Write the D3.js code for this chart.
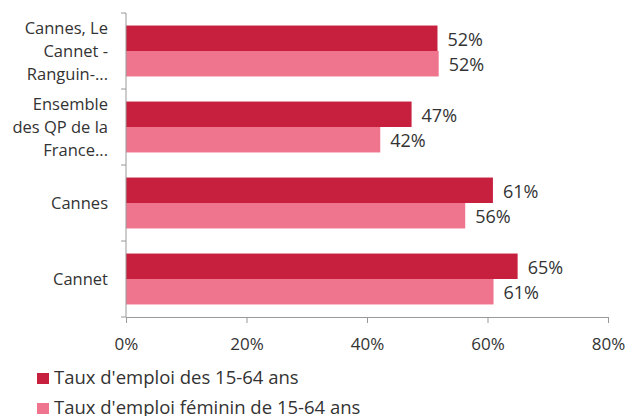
<html>
  <head>
    <script src="https://d3js.org/d3.v7.min.js"></script>
    <style>
      body { margin: 0; background: #fff; }
      text { font-family: "Open Sans", sans-serif; fill: #333; }
      .axis line, .axis path { stroke: #999; }
    </style>
  </head>
  <body>
    <svg id="chart" width="627" height="416"></svg>
    <script>
      // data
      const categories = [
        ["Cannes, Le", "Cannet -", "Ranguin-..."],
        ["Ensemble", "des QP de la", "France..."],
        ["Cannes"],
        ["Cannet"]
      ];
      const seriesNames = ["Taux d'emploi des 15-64 ans", "Taux d'emploi féminin de 15-64 ans"];
      const tauxEmploi = [0.517, 0.474, 0.609, 0.650];
      const tauxFeminin = [0.519, 0.422, 0.563, 0.610];
      const labelsEmploi = ["52%", "47%", "61%", "65%"];
      const labelsFeminin = ["52%", "42%", "56%", "61%"];
      const xTicks = [0, 0.2, 0.4, 0.6, 0.8];
      const colors = ["#c71f3e", "#ef758f"];

      const svg = d3.select("#chart");
      const margin = {top: 13, left: 126, right: 19, bottom: 99};
      const chartWidth = 627 - margin.left - margin.right;
      const chartHeight = 416 - margin.top - margin.bottom;

      const g = svg.append("g").attr("transform", `translate(${margin.left},${margin.top})`);

      const x = d3.scaleLinear().domain([0, 0.8]).range([0, chartWidth]);
      const y = d3.scaleBand().domain(d3.range(categories.length)).range([0, chartHeight]);
      const groupH = y.bandwidth() * 0.67;
      const inner = d3.scaleBand().domain([0, 1]).range([0, groupH]);
      const offset = (y.bandwidth() - groupH) / 2;

      const rows = categories.map((c, i) => ({
        i,
        values: [
          {s: 0, v: tauxEmploi[i], label: labelsEmploi[i]},
          {s: 1, v: tauxFeminin[i], label: labelsFeminin[i]}
        ]
      }));

      const grp = g.selectAll(".row")
        .data(rows)
        .join("g")
        .attr("class", "row")
        .attr("transform", d => `translate(0,${y(d.i) + offset})`);

      grp.selectAll("rect")
        .data(d => d.values)
        .join("rect")
        .attr("x", 0)
        .attr("y", d => inner(d.s))
        .attr("width", d => x(d.v))
        .attr("height", inner.bandwidth())
        .attr("fill", d => colors[d.s]);

      grp.selectAll(".val")
        .data(d => d.values)
        .join("text")
        .attr("class", "val")
        .attr("x", d => x(d.v) + 10)
        .attr("y", d => inner(d.s) + inner.bandwidth() / 2 + 1)
        .attr("dy", "0.35em")
        .style("font-size", "18px")
        .text(d => d.label);

      // x axis
      const xAxis = g.append("g")
        .attr("class", "axis")
        .attr("transform", `translate(0,${chartHeight})`)
        .call(d3.axisBottom(x).tickValues(xTicks).tickFormat(d3.format(".0%")).tickSizeInner(6).tickSizeOuter(0));
      xAxis.selectAll("text")
        .style("font-size", "17px")
        .attr("y", 33)
        .attr("dy", 0)
        .style("fill", "#333");

      // y axis: line plus ticks at band boundaries
      const yAxis = g.append("g").attr("class", "axis");
      yAxis.append("line")
        .attr("x1", 0).attr("x2", 0)
        .attr("y1", 0).attr("y2", chartHeight);
      yAxis.selectAll(".tk")
        .data(d3.range(categories.length + 1))
        .join("line")
        .attr("class", "tk")
        .attr("x1", -5).attr("x2", 0)
        .attr("y1", d => d * y.step())
        .attr("y2", d => d * y.step());

      const catLabels = g.selectAll(".cat")
        .data(categories)
        .join("text")
        .attr("class", "cat")
        .attr("text-anchor", "end")
        .style("font-size", "16.5px")
        .attr("transform", (d, i) => `translate(-18,${y(i) + y.bandwidth() / 2})`);
      catLabels.selectAll("tspan")
        .data(d => d.map((t, k) => ({t, k, n: d.length})))
        .join("tspan")
        .attr("x", 0)
        .attr("y", d => (d.k - (d.n - 1) / 2) * 23)
        .attr("dy", "0.35em")
        .text(d => d.t);

      // legend
      const legend = svg.append("g").attr("transform", "translate(37,373)");
      const li = legend.selectAll("g")
        .data(seriesNames)
        .join("g")
        .attr("transform", (d, i) => `translate(0,${i * 30})`);
      li.append("rect")
        .attr("width", 12).attr("height", 11)
        .attr("fill", (d, i) => colors[i]);
      li.append("text")
        .attr("x", 17)
        .attr("y", 11)
        .style("font-size", "18.5px")
        .text(d => d);
    </script>
  </body>
</html>
